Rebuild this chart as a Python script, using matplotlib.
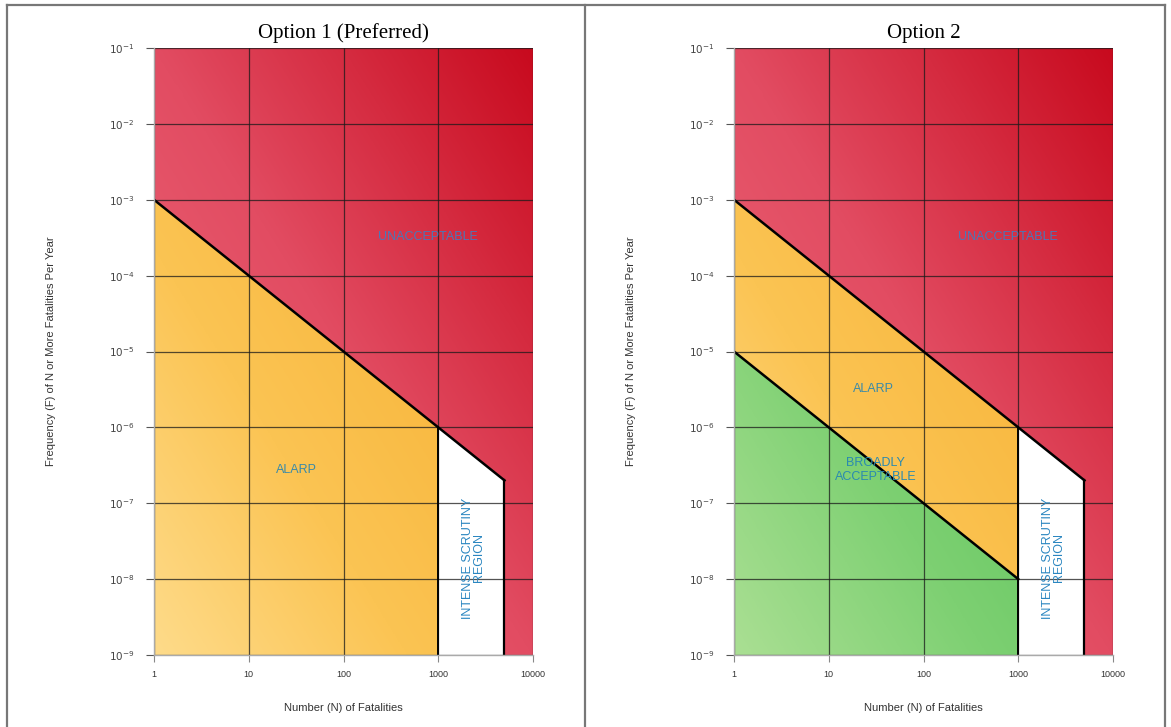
import numpy as np
import matplotlib
matplotlib.use('Agg')
import matplotlib.pyplot as plt
from matplotlib.colors import LinearSegmentedColormap
from matplotlib.patches import Polygon
from matplotlib.lines import Line2D

# F-N criterion lines
n_ticks = [1, 10, 100, 1000, 10000]
n_labels = ['1', '10', '100', '1000', '10000']
f_exps = [-1, -2, -3, -4, -5, -6, -7, -8, -9]

upper_n = [1, 1000, 5000]
upper_f = [1e-3, 1e-6, 2e-7]
lower_n = [1, 1000]
lower_f = [1e-5, 1e-8]
n_min, n_max = 1, 10000
f_min, f_max = 1e-9, 1e-1

titles = ['Option 1 (Preferred)', 'Option 2']

red_cm = LinearSegmentedColormap.from_list('red', ['#f27d8a', '#e85c6f', '#e24c62', '#d52b40', '#c80a1e'])
orange_cm = LinearSegmentedColormap.from_list('orange', ['#fedb8a', '#fbc453', '#f8b63c', '#f5a623'])
green_cm = LinearSegmentedColormap.from_list('green', ['#aadf93', '#7dd072', '#5dc45b', '#4fb84f'])

fig = plt.figure(figsize=(11.71, 7.27), dpi=100)

# table-like frame around the two panels
for xs, ys in [([0.006, 0.995], [0.993, 0.993]), ([0.006, 0.006], [0, 0.993]),
               ([0.4995, 0.4995], [0, 0.993]), ([0.995, 0.995], [0, 0.993])]:
    fig.add_artist(Line2D(xs, ys, color='#777777', lw=1.6, transform=fig.transFigure))

yy, xx = np.mgrid[0:1:300j, 0:1:300j]
grad = (xx + yy) / 2


def fill_gradient(ax, verts, cmap):
    poly = Polygon(verts, closed=True, facecolor='none', edgecolor='none')
    ax.add_patch(poly)
    im = ax.imshow(grad, cmap=cmap, origin='lower', extent=[0, 1, 0, 1],
                   transform=ax.transAxes, aspect='auto', vmin=0, vmax=1, zorder=1)
    im.set_clip_path(poly)


label_kw = dict(family='Liberation Sans', fontsize=9, ha='center', va='center', zorder=4)

lefts = [154 / 1171, 734 / 1171]
for k, left in enumerate(lefts):
    ax = fig.add_axes([left, 1 - 655 / 727, 379 / 1171, 607 / 727])
    ax.set_xscale('log')
    ax.set_yscale('log')
    ax.set_xlim(n_min, n_max)
    ax.set_ylim(f_min, f_max)

    # unacceptable region: everything above the upper line and right of N=5000
    red_verts = [(n_min, f_max), (n_max, f_max), (n_max, f_min), (upper_n[2], f_min)]
    red_verts += list(zip(upper_n[::-1], upper_f[::-1]))
    fill_gradient(ax, red_verts, red_cm)

    # ALARP region
    if k == 0:
        alarp = [(n_min, f_min), (upper_n[1], f_min)] + list(zip(upper_n[1::-1], upper_f[1::-1]))
    else:
        alarp = [(lower_n[0], lower_f[0]), (lower_n[1], lower_f[1]),
                 (upper_n[1], upper_f[1]), (upper_n[0], upper_f[0])]
    fill_gradient(ax, alarp, orange_cm)

    if k == 1:
        green = [(n_min, f_min), (lower_n[1], f_min), (lower_n[1], lower_f[1]), (lower_n[0], lower_f[0])]
        fill_gradient(ax, green, green_cm)

    # decade grid
    for n in n_ticks:
        ax.axvline(n, color='#1a1a1a', lw=0.9, alpha=0.75, zorder=2)
    for e in f_exps:
        ax.axhline(10.0 ** e, color='#1a1a1a', lw=0.9, alpha=0.75, zorder=2)

    # criterion boundaries
    ax.plot(upper_n, upper_f, color='black', lw=1.8, zorder=3)
    ax.plot([upper_n[2], upper_n[2]], [upper_f[2], f_min], color='black', lw=1.6, zorder=3)
    ax.plot([upper_n[1], upper_n[1]], [upper_f[1], f_min], color='black', lw=1.4, zorder=3)
    if k == 1:
        ax.plot(lower_n, lower_f, color='black', lw=1.8, zorder=3)

    # region labels
    ax.text(780, 10 ** -3.49, 'UNACCEPTABLE', color='#4a78b8', **label_kw)
    ax.text(2380, 10 ** -7.72, 'INTENSE SCRUTINY\nREGION', color='#2a86c0', rotation=90,
            linespacing=0.9, **label_kw)
    if k == 0:
        ax.text(32, 10 ** -6.56, 'ALARP', color='#3a8aa8', **label_kw)
    else:
        ax.text(30, 10 ** -5.5, 'ALARP', color='#3a8aa8', **label_kw)
        ax.text(31, 10 ** -6.56, 'BROADLY\nACCEPTABLE', color='#2a8ab0', linespacing=1.15, **label_kw)

    ax.set_xticks(n_ticks)
    ax.set_xticklabels(n_labels)
    ax.set_yticks([10.0 ** e for e in f_exps])
    ax.set_yticklabels([r'$10^{%d}$' % e for e in f_exps])
    ax.minorticks_off()
    ax.tick_params(axis='x', length=5, width=0.8, color='#888888', pad=6,
                   labelsize=6.5, labelcolor='#333333')
    ax.tick_params(axis='y', length=6, width=0.8, color='#555555', pad=8,
                   labelsize=7.5, labelcolor='#444444')
    for lab in ax.get_xticklabels() + ax.get_yticklabels():
        lab.set_family('Liberation Sans')
    for side in ['top', 'right']:
        ax.spines[side].set_visible(False)
    for side in ['left', 'bottom']:
        ax.spines[side].set_color('#aaaaaa')
        ax.spines[side].set_linewidth(1.0)
        ax.spines[side].set_zorder(5)

    ax.set_title(titles[k], family='Liberation Serif', fontsize=15, pad=7)
    ax.set_xlabel('Number (N) of Fatalities', family='Liberation Sans', fontsize=8,
                  color='#333333', labelpad=17)
    ax.set_ylabel('Frequency (F) of N or More Fatalities Per Year', family='Liberation Sans',
                  fontsize=8, color='#333333', labelpad=38)

fig.savefig('out.png', dpi=100)
